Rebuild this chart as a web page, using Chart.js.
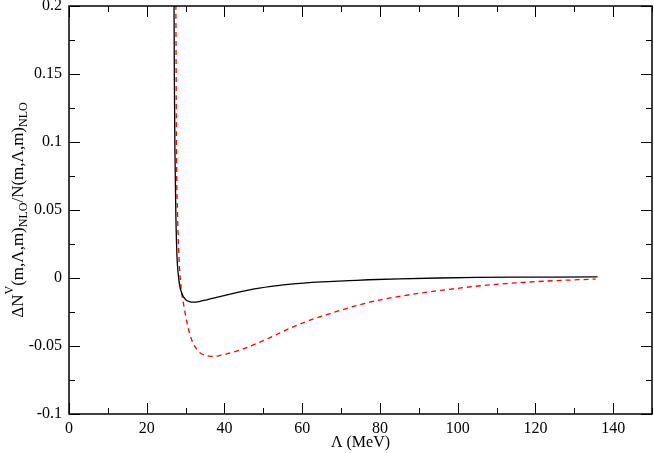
<!DOCTYPE html>
<html>
<head>
<meta charset="utf-8">
<script src="https://cdn.jsdelivr.net/npm/chart.js@4/dist/chart.umd.min.js"></script>
<style>
  html, body { margin: 0; padding: 0; background: #fff; }
  #wrap { width: 654px; height: 453px; position: relative; }
</style>
</head>
<body>
<div id="wrap"><canvas id="myChart"></canvas></div>
<script>
// values
var blackX = [26.9, 27.0, 27.1, 27.25, 27.5, 27.8, 28.1, 28.5, 29.0, 29.5, 30.2, 31.0, 32.0, 33.5, 35.5, 38, 42, 46.5, 52, 57, 65, 72, 77, 85, 95, 105, 115, 125, 136];
var blackY = [0.3, 0.22, 0.15, 0.094, 0.045, 0.015, 0.003, -0.006, -0.011, -0.014, -0.0163, -0.0174, -0.0178, -0.0173, -0.016, -0.0142, -0.0115, -0.0087, -0.0062, -0.0045, -0.0029, -0.002, -0.0013, -0.0006, 0.0, 0.0004, 0.0006, 0.0007, 0.0008];

var redX = [27.35, 27.5, 27.65, 27.9, 28.3, 28.9, 29.4, 30.3, 31.1, 31.9, 32.7, 33.5, 34.3, 35.3, 36.6, 38.5, 41, 44, 46.5, 52, 56.8, 59.3, 62, 67, 77.3, 87.6, 97.9, 108.9, 122.6, 135.5];
var redY = [0.3, 0.2, 0.094, 0.05, 0.015, -0.009, -0.018, -0.032, -0.0413, -0.0478, -0.0517, -0.0545, -0.0561, -0.0571, -0.0576, -0.0572, -0.0555, -0.053, -0.0503, -0.0435, -0.037, -0.034, -0.031, -0.0263, -0.0178, -0.0123, -0.0083, -0.0049, -0.0023, -0.0008];

var xTickLabels = ['0', '20', '40', '60', '80', '100', '120', '140'];
var yTickLabels = ['-0.1', '-0.05', '0', '0.05', '0.1', '0.15', '0.2'];

function toPoints(xs, ys) {
    return xs.map(function (x, i) { return {x: x, y: ys[i]}; });
}

var serif = "'Liberation Serif', 'DejaVu Serif', serif";

// frame + inward ticks on all four sides (xmgrace style)
var framePlugin = {
    id: 'frame',
    afterDraw: function (chart) {
        var ctx = chart.ctx, a = chart.chartArea;
        var xs = chart.scales.x, ys = chart.scales.y;
        ctx.save();
        ctx.strokeStyle = '#000';
        ctx.lineWidth = 1;
        var v, p, len;
        for (v = 0; v <= 150; v += 10) {
            p = Math.round(xs.getPixelForValue(v)) + 0.5;
            len = (v % 20 === 0) ? 11 : 6;
            ctx.beginPath();
            ctx.moveTo(p, a.bottom); ctx.lineTo(p, a.bottom - len);
            ctx.moveTo(p, a.top); ctx.lineTo(p, a.top + len);
            ctx.stroke();
        }
        for (var i = 0; i <= 12; i++) {
            v = -0.1 + i * 0.025;
            p = Math.round(ys.getPixelForValue(v)) + 0.5;
            len = (i % 2 === 0) ? 11 : 6;
            ctx.beginPath();
            ctx.moveTo(a.left, p); ctx.lineTo(a.left + len, p);
            ctx.moveTo(a.right, p); ctx.lineTo(a.right - len, p);
            ctx.stroke();
        }
        ctx.lineWidth = 1.5;
        ctx.strokeRect(a.left, a.top, a.right - a.left, a.bottom - a.top);
        ctx.restore();
    }
};

// y axis title with super/subscripts
var yTitleParts = [
    {t: '\u0394N', s: 0},
    {t: 'V', s: 1},
    {t: '(m,\u039b,m)', s: 0},
    {t: 'NLO', s: -1},
    {t: '/N(m,\u039b,m)', s: 0},
    {t: 'NLO', s: -1}
];
var yTitlePlugin = {
    id: 'yTitle',
    afterDraw: function (chart) {
        var ctx = chart.ctx, a = chart.chartArea;
        ctx.save();
        ctx.fillStyle = '#000';
        ctx.textBaseline = 'alphabetic';
        var total = 0;
        yTitleParts.forEach(function (part) {
            ctx.font = (part.s === 0 ? 17 : 12) + 'px ' + serif;
            part.w = ctx.measureText(part.t).width;
            total += part.w;
        });
        ctx.translate(23, (a.top + a.bottom) / 2);
        ctx.rotate(-Math.PI / 2);
        var x = -total / 2;
        yTitleParts.forEach(function (part) {
            ctx.font = (part.s === 0 ? 17 : 12) + 'px ' + serif;
            var dy = part.s === 1 ? -10 : (part.s === -1 ? 4 : 0);
            ctx.fillText(part.t, x, dy);
            x += part.w;
        });
        ctx.restore();
    }
};

var ctx = document.getElementById('myChart').getContext('2d');
var chart = new Chart(ctx, {
    type: 'scatter',
    data: {
        datasets: [{
            label: 'black',
            data: toPoints(blackX, blackY),
            showLine: true,
            borderColor: '#000',
            borderWidth: 1.3,
            pointRadius: 0,
            cubicInterpolationMode: 'monotone'
        }, {
            label: 'red',
            data: toPoints(redX, redY),
            showLine: true,
            borderColor: '#ff0000',
            borderWidth: 1.3,
            borderDash: [5, 4],
            pointRadius: 0,
            cubicInterpolationMode: 'monotone'
        }]
    },
    options: {
        responsive: true,
        maintainAspectRatio: false,
        animation: false,
        layout: { padding: { top: 6, right: 2, left: 0, bottom: 0 } },
        plugins: {
            legend: { display: false },
            tooltip: { enabled: false }
        },
        scales: {
            x: {
                type: 'linear',
                min: 0, max: 150,
                grid: { display: false, drawTicks: false },
                border: { display: false },
                afterBuildTicks: function (scale) {
                    scale.ticks = xTickLabels.map(function (s) { return {value: Number(s)}; });
                },
                ticks: {
                    padding: 5,
                    maxRotation: 0,
                    autoSkip: false,
                    color: '#000',
                    font: { family: serif, size: 16 },
                    callback: function (value, index) { return xTickLabels[index]; }
                },
                title: {
                    display: true,
                    text: '\u039b (MeV)',
                    color: '#000',
                    font: { family: serif, size: 16 },
                    padding: { top: 0, bottom: 1 }
                },
                afterFit: function (scale) {
                    scale.height = 39;
                    scale.paddingLeft = 0;
                    scale.paddingRight = 0;
                }
            },
            y: {
                type: 'linear',
                min: -0.1, max: 0.2,
                grid: { display: false, drawTicks: false },
                border: { display: false },
                afterBuildTicks: function (scale) {
                    scale.ticks = yTickLabels.map(function (s) { return {value: Number(s)}; });
                },
                ticks: {
                    padding: 7,
                    autoSkip: false,
                    color: '#000',
                    font: { family: serif, size: 16 },
                    callback: function (value, index) { return yTickLabels[index]; }
                },
                afterFit: function (scale) {
                    scale.width = 69;
                    scale.paddingTop = 0;
                    scale.paddingBottom = 0;
                }
            }
        }
    },
    plugins: [framePlugin, yTitlePlugin]
});
</script>
</body>
</html>
